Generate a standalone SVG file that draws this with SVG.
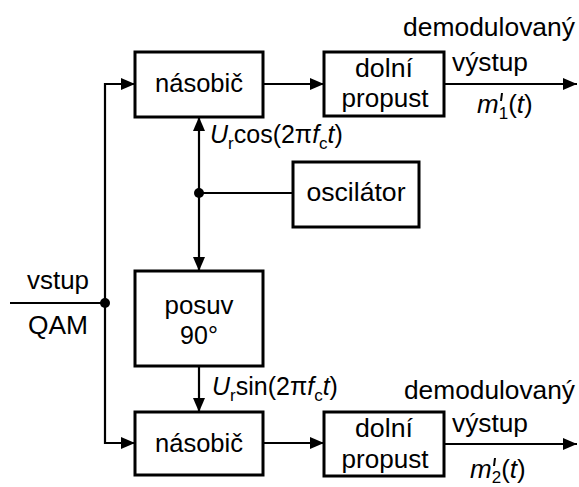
<svg xmlns="http://www.w3.org/2000/svg" width="579" height="487" viewBox="0 0 579 487">
<defs>
<marker id="ah" viewBox="0 0 14 12" refX="14" refY="6" markerWidth="14" markerHeight="12" markerUnits="userSpaceOnUse" orient="auto">
<path d="M0,0 L14,6 L0,12 Z" fill="#000"/>
</marker>
</defs>
<style>
.box{fill:#fff;stroke:#000;stroke-width:3}
.ln{fill:none;stroke:#000;stroke-width:2.2}
.ar{fill:none;stroke:#000;stroke-width:2.2;marker-end:url(#ah)}
text{font-family:"Liberation Sans",Arial,sans-serif;font-size:25px;fill:#000}
.c{text-anchor:middle}
.i{font-style:italic}
.s{font-size:17px}
.pr{stroke:#000;stroke-width:2}
</style>
<rect width="579" height="487" fill="#fff"/>
<g id="connectors">
<path class="ln" d="M10,303 H105"/>
<path class="ar" d="M105,303 V84 H135"/>
<path class="ar" d="M105,303 V443 H135"/>
<path class="ar" d="M263,84 H324"/>
<path class="ar" d="M263,443 H324"/>
<path class="ar" d="M444,84 H577"/>
<path class="ar" d="M444,444 H577"/>
<path class="ar" d="M199,193 V117"/>
<path class="ar" d="M199,193 V271"/>
<path class="ln" d="M199,193 H293"/>
<path class="ar" d="M199,366 V412"/>
<circle cx="199" cy="193" r="5" fill="#000"/>
<circle cx="105" cy="303" r="5" fill="#000"/>
</g>
<g id="nasobic1">
<rect class="box" x="135" y="52" width="128" height="65"/>
<text class="c" x="199" y="92" textLength="88" lengthAdjust="spacingAndGlyphs">násobič</text>
</g>
<g id="dolni1">
<rect class="box" x="324" y="52" width="120" height="64"/>
<text class="c" x="384" y="77" textLength="58" lengthAdjust="spacingAndGlyphs">dolní</text>
<text class="c" x="385" y="107" textLength="87" lengthAdjust="spacingAndGlyphs">propust</text>
</g>
<g id="oscilator">
<rect class="box" x="293" y="162" width="126" height="65"/>
<text class="c" x="356" y="201" textLength="99" lengthAdjust="spacingAndGlyphs">oscilátor</text>
</g>
<g id="posuv">
<rect class="box" x="135" y="271" width="128" height="95"/>
<text class="c" x="199" y="314" textLength="69" lengthAdjust="spacingAndGlyphs">posuv</text>
<text class="c" x="199" y="344">90°</text>
</g>
<g id="nasobic2">
<rect class="box" x="135" y="412" width="128" height="63"/>
<text class="c" x="199" y="452" textLength="88" lengthAdjust="spacingAndGlyphs">násobič</text>
</g>
<g id="dolni2">
<rect class="box" x="324" y="412" width="120" height="64"/>
<text class="c" x="384" y="437" textLength="58" lengthAdjust="spacingAndGlyphs">dolní</text>
<text class="c" x="385" y="468" textLength="87" lengthAdjust="spacingAndGlyphs">propust</text>
</g>
<g id="labels">
<text x="27" y="289" textLength="62" lengthAdjust="spacingAndGlyphs">vstup</text>
<text x="28" y="334" textLength="60" lengthAdjust="spacingAndGlyphs">QAM</text>
<text x="403" y="36" textLength="172" lengthAdjust="spacingAndGlyphs">demodulovaný</text>
<text x="452" y="71" textLength="76" lengthAdjust="spacingAndGlyphs">výstup</text>
<text x="404" y="399" textLength="171" lengthAdjust="spacingAndGlyphs">demodulovaný</text>
<text x="452" y="432" textLength="76" lengthAdjust="spacingAndGlyphs">výstup</text>
<text x="210" y="143"><tspan class="i">U</tspan><tspan class="s" dy="6">r</tspan><tspan dy="-6">cos(2π</tspan><tspan class="i">f</tspan><tspan class="s" dy="6">c</tspan><tspan class="i" dy="-6">t</tspan>)</text>
<text x="212" y="395"><tspan class="i">U</tspan><tspan class="s" dy="6">r</tspan><tspan dy="-6">sin(2π</tspan><tspan class="i">f</tspan><tspan class="s" dy="6">c</tspan><tspan class="i" dy="-6">t</tspan>)</text>
<text x="477" y="113" style="font-size:26px"><tspan class="i">m</tspan><tspan class="s" dy="6">1</tspan><tspan dy="-6">(</tspan><tspan class="i">t</tspan>)</text>
<path class="pr" d="M502,93 L501,101"/>
<text x="470" y="478" style="font-size:26px"><tspan class="i">m</tspan><tspan class="s" dy="5">2</tspan><tspan dy="-5">(</tspan><tspan class="i">t</tspan>)</text>
<path class="pr" d="M495,458 L494,466"/>
</g>
</svg>
